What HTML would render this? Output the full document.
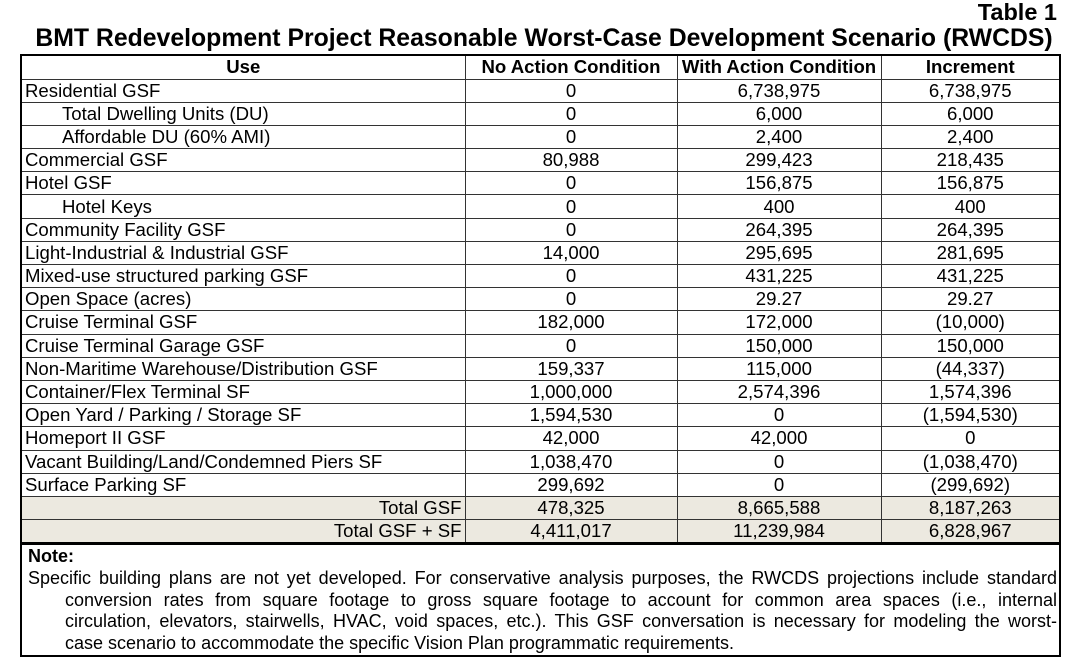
<!DOCTYPE html>
<html><head><meta charset="utf-8"><style>
body{margin:0;width:1078px;height:672px;background:#fff;font-family:"Liberation Sans",Arial,sans-serif;color:#000;position:relative;overflow:hidden}
.t1{position:absolute;right:21px;top:-1px;font-weight:bold;font-size:23.5px}
.title{position:absolute;left:30px;width:1028px;top:25px;text-align:center;font-weight:bold;font-size:24.8px;white-space:nowrap}
table{position:absolute;left:20px;top:54px;border-collapse:collapse;border:2.5px solid #000;font-size:18.6px;table-layout:fixed}
tr{height:23.2px}
tr.h{height:24px}
td,th{border:1.5px solid #333;padding:0 3px;line-height:20px;white-space:nowrap;overflow:hidden}
th{font-weight:bold;text-align:center}
td.n{text-align:center}
td.i{padding-left:40px}
tr.tot td{background:#ece9e0}
td.r{text-align:right}
.note{position:absolute;left:20px;top:543px;width:1041px;height:114px;border:2.5px solid #000;box-sizing:border-box;font-size:18px;line-height:21.6px}
.note div{position:absolute;white-space:nowrap}
.j{text-align:justify;text-align-last:justify;white-space:normal!important}
</style></head><body>
<div class="t1">Table 1</div>
<div class="title">BMT Redevelopment Project Reasonable Worst-Case Development Scenario (RWCDS)</div>
<table>
<colgroup><col style="width:444px"><col style="width:212px"><col style="width:204px"><col style="width:179px"></colgroup>
<tr class="h"><th>Use</th><th>No Action Condition</th><th>With Action Condition</th><th>Increment</th></tr>
<tr><td>Residential GSF</td><td class="n">0</td><td class="n">6,738,975</td><td class="n">6,738,975</td></tr>
<tr><td class="i">Total Dwelling Units (DU)</td><td class="n">0</td><td class="n">6,000</td><td class="n">6,000</td></tr>
<tr><td class="i">Affordable DU (60% AMI)</td><td class="n">0</td><td class="n">2,400</td><td class="n">2,400</td></tr>
<tr><td>Commercial GSF</td><td class="n">80,988</td><td class="n">299,423</td><td class="n">218,435</td></tr>
<tr><td>Hotel GSF</td><td class="n">0</td><td class="n">156,875</td><td class="n">156,875</td></tr>
<tr><td class="i">Hotel Keys</td><td class="n">0</td><td class="n">400</td><td class="n">400</td></tr>
<tr><td>Community Facility GSF</td><td class="n">0</td><td class="n">264,395</td><td class="n">264,395</td></tr>
<tr><td>Light-Industrial &amp; Industrial GSF</td><td class="n">14,000</td><td class="n">295,695</td><td class="n">281,695</td></tr>
<tr><td>Mixed-use structured parking GSF</td><td class="n">0</td><td class="n">431,225</td><td class="n">431,225</td></tr>
<tr><td>Open Space (acres)</td><td class="n">0</td><td class="n">29.27</td><td class="n">29.27</td></tr>
<tr><td>Cruise Terminal GSF</td><td class="n">182,000</td><td class="n">172,000</td><td class="n">(10,000)</td></tr>
<tr><td>Cruise Terminal Garage GSF</td><td class="n">0</td><td class="n">150,000</td><td class="n">150,000</td></tr>
<tr><td>Non-Maritime Warehouse/Distribution GSF</td><td class="n">159,337</td><td class="n">115,000</td><td class="n">(44,337)</td></tr>
<tr><td>Container/Flex Terminal SF</td><td class="n">1,000,000</td><td class="n">2,574,396</td><td class="n">1,574,396</td></tr>
<tr><td>Open Yard / Parking / Storage SF</td><td class="n">1,594,530</td><td class="n">0</td><td class="n">(1,594,530)</td></tr>
<tr><td>Homeport II GSF</td><td class="n">42,000</td><td class="n">42,000</td><td class="n">0</td></tr>
<tr><td>Vacant Building/Land/Condemned Piers SF</td><td class="n">1,038,470</td><td class="n">0</td><td class="n">(1,038,470)</td></tr>
<tr><td>Surface Parking SF</td><td class="n">299,692</td><td class="n">0</td><td class="n">(299,692)</td></tr>
<tr class="tot"><td class="r">Total GSF</td><td class="n">478,325</td><td class="n">8,665,588</td><td class="n">8,187,263</td></tr>
<tr class="tot"><td class="r">Total GSF + SF</td><td class="n">4,411,017</td><td class="n">11,239,984</td><td class="n">6,828,967</td></tr>
</table>
<div class="note">
<div style="left:6px;top:1px;font-weight:bold">Note:</div>
<div class="j" style="left:6px;top:23px;width:1029px">Specific building plans are not yet developed. For conservative analysis purposes, the RWCDS projections include standard</div>
<div class="j" style="left:43px;top:45px;width:992px">conversion rates from square footage to gross square footage to account for common area spaces (i.e., internal</div>
<div class="j" style="left:43px;top:66px;width:992px">circulation, elevators, stairwells, HVAC, void spaces, etc.). This GSF conversation is necessary for modeling the worst-</div>
<div style="left:43px;top:88px">case scenario to accommodate the specific Vision Plan programmatic requirements.</div>
</div>
</body></html>
